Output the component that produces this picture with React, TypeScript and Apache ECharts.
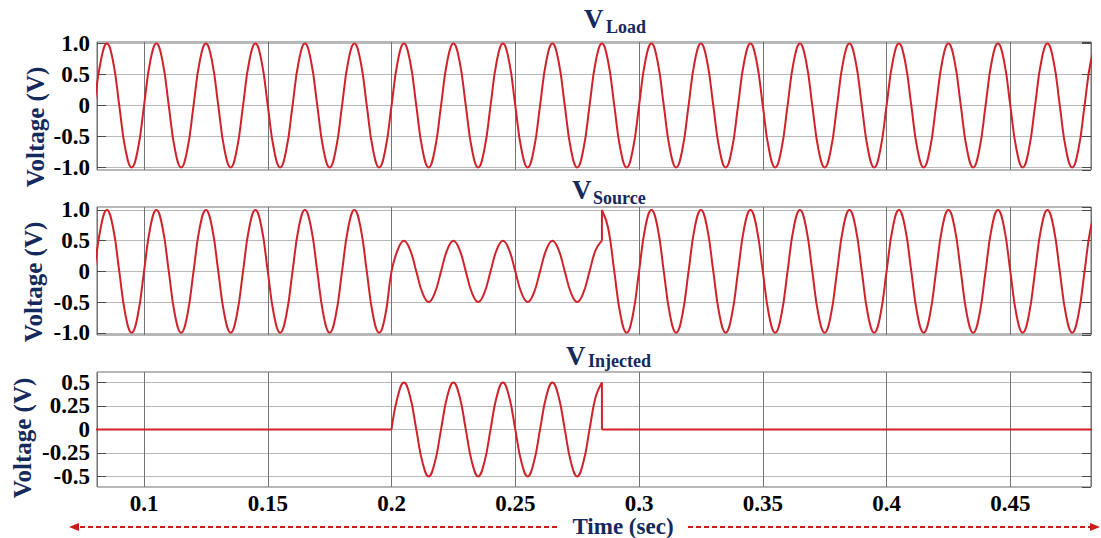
import React, { useEffect, useRef } from "react";
import * as echarts from "echarts";

// Sample times (s), one row = one 50 Hz cycle (0.02 s)
const TIME = [
  0.08, 0.0825, 0.085, 0.0875, 0.09, 0.0925, 0.095, 0.0975,
  0.1, 0.1025, 0.105, 0.1075, 0.11, 0.1125, 0.115, 0.1175,
  0.12, 0.1225, 0.125, 0.1275, 0.13, 0.1325, 0.135, 0.1375,
  0.14, 0.1425, 0.145, 0.1475, 0.15, 0.1525, 0.155, 0.1575,
  0.16, 0.1625, 0.165, 0.1675, 0.17, 0.1725, 0.175, 0.1775,
  0.18, 0.1825, 0.185, 0.1875, 0.19, 0.1925, 0.195, 0.1975,
  0.2, 0.2025, 0.205, 0.2075, 0.21, 0.2125, 0.215, 0.2175,
  0.22, 0.2225, 0.225, 0.2275, 0.23, 0.2325, 0.235, 0.2375,
  0.24, 0.2425, 0.245, 0.2475, 0.25, 0.2525, 0.255, 0.2575,
  0.26, 0.2625, 0.265, 0.2675, 0.27, 0.2725, 0.275, 0.2775,
  0.28, 0.2825, 0.285, 0.2875, 0.29, 0.2925, 0.295, 0.2975,
  0.3, 0.3025, 0.305, 0.3075, 0.31, 0.3125, 0.315, 0.3175,
  0.32, 0.3225, 0.325, 0.3275, 0.33, 0.3325, 0.335, 0.3375,
  0.34, 0.3425, 0.345, 0.3475, 0.35, 0.3525, 0.355, 0.3575,
  0.36, 0.3625, 0.365, 0.3675, 0.37, 0.3725, 0.375, 0.3775,
  0.38, 0.3825, 0.385, 0.3875, 0.39, 0.3925, 0.395, 0.3975,
  0.4, 0.4025, 0.405, 0.4075, 0.41, 0.4125, 0.415, 0.4175,
  0.42, 0.4225, 0.425, 0.4275, 0.43, 0.4325, 0.435, 0.4375,
  0.44, 0.4425, 0.445, 0.4475, 0.45, 0.4525, 0.455, 0.4575,
  0.46, 0.4625, 0.465, 0.4675, 0.47, 0.4725, 0.475, 0.4775,
  0.48, 0.4825, 0.485,
];

// Load voltage (V)
const V_LOAD = [
  0, 0.71, 1, 0.71, 0, -0.71, -1, -0.71,
  0, 0.71, 1, 0.71, 0, -0.71, -1, -0.71,
  0, 0.71, 1, 0.71, 0, -0.71, -1, -0.71,
  0, 0.71, 1, 0.71, 0, -0.71, -1, -0.71,
  0, 0.71, 1, 0.71, 0, -0.71, -1, -0.71,
  0, 0.71, 1, 0.71, 0, -0.71, -1, -0.71,
  0, 0.71, 1, 0.71, 0, -0.71, -1, -0.71,
  0, 0.71, 1, 0.71, 0, -0.71, -1, -0.71,
  0, 0.71, 1, 0.71, 0, -0.71, -1, -0.71,
  0, 0.71, 1, 0.71, 0, -0.71, -1, -0.71,
  0, 0.71, 1, 0.71, 0, -0.71, -1, -0.71,
  0, 0.71, 1, 0.71, 0, -0.71, -1, -0.71,
  0, 0.71, 1, 0.71, 0, -0.71, -1, -0.71,
  0, 0.71, 1, 0.71, 0, -0.71, -1, -0.71,
  0, 0.71, 1, 0.71, 0, -0.71, -1, -0.71,
  0, 0.71, 1, 0.71, 0, -0.71, -1, -0.71,
  0, 0.71, 1, 0.71, 0, -0.71, -1, -0.71,
  0, 0.71, 1, 0.71, 0, -0.71, -1, -0.71,
  0, 0.71, 1, 0.71, 0, -0.71, -1, -0.71,
  0, 0.71, 1, 0.71, 0, -0.71, -1, -0.71,
  0, 0.71, 1,
];

// Source voltage (V); value at the jump time is the one just before the jump
const V_SOURCE = [
  0, 0.71, 1, 0.71, 0, -0.71, -1, -0.71,
  0, 0.71, 1, 0.71, 0, -0.71, -1, -0.71,
  0, 0.71, 1, 0.71, 0, -0.71, -1, -0.71,
  0, 0.71, 1, 0.71, 0, -0.71, -1, -0.71,
  0, 0.71, 1, 0.71, 0, -0.71, -1, -0.71,
  0, 0.71, 1, 0.71, 0, -0.71, -1, -0.71,
  0, 0.35, 0.5, 0.35, 0, -0.35, -0.5, -0.35,
  0, 0.35, 0.5, 0.35, 0, -0.35, -0.5, -0.35,
  0, 0.35, 0.5, 0.35, 0, -0.35, -0.5, -0.35,
  0, 0.35, 0.5, 0.35, 0, -0.35, -0.5, -0.35,
  0, 0.35, 0.5, 0.71, 0, -0.71, -1, -0.71,
  0, 0.71, 1, 0.71, 0, -0.71, -1, -0.71,
  0, 0.71, 1, 0.71, 0, -0.71, -1, -0.71,
  0, 0.71, 1, 0.71, 0, -0.71, -1, -0.71,
  0, 0.71, 1, 0.71, 0, -0.71, -1, -0.71,
  0, 0.71, 1, 0.71, 0, -0.71, -1, -0.71,
  0, 0.71, 1, 0.71, 0, -0.71, -1, -0.71,
  0, 0.71, 1, 0.71, 0, -0.71, -1, -0.71,
  0, 0.71, 1, 0.71, 0, -0.71, -1, -0.71,
  0, 0.71, 1, 0.71, 0, -0.71, -1, -0.71,
  0, 0.71, 1,
];

// Injected voltage (V); value at the jump time is the one just before the jump
const V_INJECTED = [
  0, 0, 0, 0, 0, 0, 0, 0,
  0, 0, 0, 0, 0, 0, 0, 0,
  0, 0, 0, 0, 0, 0, 0, 0,
  0, 0, 0, 0, 0, 0, 0, 0,
  0, 0, 0, 0, 0, 0, 0, 0,
  0, 0, 0, 0, 0, 0, 0, 0,
  0, 0.35, 0.5, 0.35, 0, -0.35, -0.5, -0.35,
  0, 0.35, 0.5, 0.35, 0, -0.35, -0.5, -0.35,
  0, 0.35, 0.5, 0.35, 0, -0.35, -0.5, -0.35,
  0, 0.35, 0.5, 0.35, 0, -0.35, -0.5, -0.35,
  0, 0.35, 0.5, 0, 0, 0, 0, 0,
  0, 0, 0, 0, 0, 0, 0, 0,
  0, 0, 0, 0, 0, 0, 0, 0,
  0, 0, 0, 0, 0, 0, 0, 0,
  0, 0, 0, 0, 0, 0, 0, 0,
  0, 0, 0, 0, 0, 0, 0, 0,
  0, 0, 0, 0, 0, 0, 0, 0,
  0, 0, 0, 0, 0, 0, 0, 0,
  0, 0, 0, 0, 0, 0, 0, 0,
  0, 0, 0, 0, 0, 0, 0, 0,
  0, 0, 0,
];

const SAG_START = 0.2; // s
const JUMP_TIME = 0.285; // s
const V_SOURCE_AFTER_JUMP = 1.0;
const V_INJECTED_AFTER_JUMP = 0;

const X_RANGE = [0.081, 0.4826];
const Y_RANGE_LOAD = [-1.04, 1.025];
const Y_RANGE_SOURCE = [-1.036, 1.048];
const Y_RANGE_INJ = [-0.613, 0.611];

const TITLES = [
  { main: "V", sub: "Load" },
  { main: "V", sub: "Source" },
  { main: "V", sub: "Injected" },
];
const Y_NAME = "Voltage (V)";
const X_NAME = "Time (sec)";

const SERIF = "'Liberation Serif', 'Times New Roman', serif";
const NAVY = "#16295c";
const RED = "#d0222a";

function pts(values: number[], from: number, to: number): number[][] {
  const out: number[][] = [];
  for (let i = from; i <= to; i++) out.push([TIME[i], values[i]]);
  return out;
}

export default function App() {
  const ref = useRef<HTMLDivElement>(null);

  useEffect(() => {
    if (!ref.current) return;
    const chart = echarts.init(ref.current, undefined, { renderer: "svg" });

    const last = TIME.length - 1;
    const jumpIdx = TIME.indexOf(JUMP_TIME);
    const sagIdx = TIME.indexOf(SAG_START);

    const grids = [
      { left: 97, top: 42, width: 994, height: 128 },
      { left: 97, top: 207, width: 994, height: 128 },
      { left: 97, top: 372, width: 994, height: 115 },
    ].map((g) => ({ ...g, show: true, borderColor: "#6a6a6a", borderWidth: 1, containLabel: false }));

    const xFmt = (v: number) => {
      const q = v / 0.05;
      if (Math.abs(q - Math.round(q)) > 1e-6) return "";
      return String(Math.round(v * 100) / 100);
    };

    const xAxes = [0, 1, 2].map((i) => ({
      gridIndex: i,
      type: "value",
      min: X_RANGE[0],
      max: X_RANGE[1],
      minInterval: 0.05,
      maxInterval: 0.05,
      axisLine: { show: false },
      axisTick: { show: false },
      splitLine: { show: true, lineStyle: { color: "#747474", width: 1 } },
      axisLabel: {
        show: i === 2,
        formatter: xFmt,
        fontFamily: SERIF,
        fontWeight: "bold",
        fontSize: 23,
        lineHeight: 20,
        color: "#000",
        margin: 6,
        showMinLabel: false,
        showMaxLabel: false,
      },
    }));

    const yFmt12 = (v: number) => {
      const q = v / 0.5;
      if (Math.abs(q - Math.round(q)) > 1e-6) return "";
      return Math.abs(v) < 1e-9 ? "0" : v.toFixed(1);
    };
    const yFmt3 = (v: number) => {
      const q = v / 0.25;
      if (Math.abs(q - Math.round(q)) > 1e-6) return "";
      return Math.abs(v) < 1e-9 ? "0" : String(Math.round(v * 100) / 100);
    };

    const ranges = [Y_RANGE_LOAD, Y_RANGE_SOURCE, Y_RANGE_INJ];
    const yAxes: any[] = [];
    [0, 1, 2].forEach((i) => {
      const iv = i === 2 ? 0.25 : 0.5;
      yAxes.push({
        gridIndex: i,
        type: "value",
        min: ranges[i][0],
        max: ranges[i][1],
        minInterval: iv,
        maxInterval: iv,
        axisLine: { show: false },
        axisTick: { show: true, inside: true, length: 9, lineStyle: { color: "#4a4a4a" } },
        splitLine: { show: true, lineStyle: { color: "#b9b9b9", width: 1 } },
        axisLabel: {
          formatter: i === 2 ? yFmt3 : yFmt12,
          fontFamily: SERIF,
          fontWeight: "bold",
          fontSize: 23,
          color: "#000",
          margin: 7,
          showMinLabel: false,
          showMaxLabel: false,
        },
      });
      yAxes.push({
        gridIndex: i,
        type: "value",
        position: "right",
        min: ranges[i][0],
        max: ranges[i][1],
        minInterval: iv,
        maxInterval: iv,
        axisLine: { show: false },
        axisTick: { show: true, inside: true, length: 9, lineStyle: { color: "#4a4a4a" } },
        splitLine: { show: false },
        axisLabel: { show: false },
      });
    });

    const lineSeries = (grid: number, data: number[][]) => ({
      type: "line",
      xAxisIndex: grid,
      yAxisIndex: grid * 2,
      data,
      smooth: 0.45,
      showSymbol: false,
      symbol: "none",
      lineStyle: { color: RED, width: 2 },
      itemStyle: { color: RED },
      silent: true,
    });

    const series = [
      lineSeries(0, pts(V_LOAD, 0, last)),
      lineSeries(1, pts(V_SOURCE, 0, jumpIdx)),
      lineSeries(1, [[JUMP_TIME, V_SOURCE[jumpIdx]], [JUMP_TIME, V_SOURCE_AFTER_JUMP]]),
      lineSeries(1, [[JUMP_TIME, V_SOURCE_AFTER_JUMP], ...pts(V_SOURCE, jumpIdx + 1, last)]),
      lineSeries(2, pts(V_INJECTED, 0, sagIdx)),
      lineSeries(2, pts(V_INJECTED, sagIdx, jumpIdx)),
      lineSeries(2, [[JUMP_TIME, V_INJECTED[jumpIdx]], [JUMP_TIME, V_INJECTED_AFTER_JUMP]]),
      lineSeries(2, [[JUMP_TIME, V_INJECTED_AFTER_JUMP], ...pts(V_INJECTED, jumpIdx + 1, last)]),
    ];

    const titlePos = [
      { vx: 584, vb: 28, sx: 606, sb: 33 },
      { vx: 572, vb: 199, sx: 593, sb: 204 },
      { vx: 566, vb: 365, sx: 588, sb: 367 },
    ];
    const yNamePos = [
      { x: 35, y: 127 },
      { x: 33, y: 282 },
      { x: 22, y: 438 },
    ];

    const graphic: any[] = [];
    TITLES.forEach((t, i) => {
      const p = titlePos[i];
      graphic.push({
        type: "text",
        x: p.vx,
        y: p.vb - 0.34 * 27,
        style: {
          text: t.main,
          font: `bold 27px ${SERIF}`,
          fill: NAVY,
          align: "left",
          verticalAlign: "middle",
        },
      });
      graphic.push({
        type: "text",
        x: p.sx,
        y: p.sb - 0.34 * 18,
        style: {
          text: t.sub,
          font: `bold 18px ${SERIF}`,
          fill: NAVY,
          align: "left",
          verticalAlign: "middle",
        },
      });
    });
    yNamePos.forEach((p) => {
      graphic.push({
        type: "text",
        x: p.x,
        y: p.y,
        rotation: Math.PI / 2,
        style: {
          text: Y_NAME,
          font: `bold 25px ${SERIF}`,
          fill: NAVY,
          align: "center",
          verticalAlign: "middle",
        },
      });
    });
    graphic.push({
      type: "text",
      x: 623,
      y: 526,
      style: {
        text: X_NAME,
        font: `bold 23px ${SERIF}`,
        lineHeight: 20,
        fill: NAVY,
        align: "center",
        verticalAlign: "middle",
      },
    });
    const arrowStyle = { stroke: "#cc1a1a", lineWidth: 2, lineDash: [5, 3] };
    graphic.push({ type: "line", shape: { x1: 557, y1: 527, x2: 77, y2: 527 }, style: arrowStyle });
    graphic.push({ type: "polygon", shape: { points: [[69, 527], [79, 523], [79, 531]] }, style: { fill: "#cc1a1a" } });
    graphic.push({ type: "line", shape: { x1: 688, y1: 527, x2: 1092, y2: 527 }, style: arrowStyle });
    graphic.push({ type: "polygon", shape: { points: [[1100, 527], [1090, 523], [1090, 531]] }, style: { fill: "#cc1a1a" } });

    chart.setOption({
      animation: false,
      backgroundColor: "#ffffff",
      grid: grids,
      xAxis: xAxes,
      yAxis: yAxes,
      series,
      graphic,
    } as any);

    return () => chart.dispose();
  }, []);

  return (
    <div
      ref={ref}
      style={{ position: "fixed", left: 0, top: 0, width: 1101, height: 538, background: "#fff" }}
    />
  );
}
